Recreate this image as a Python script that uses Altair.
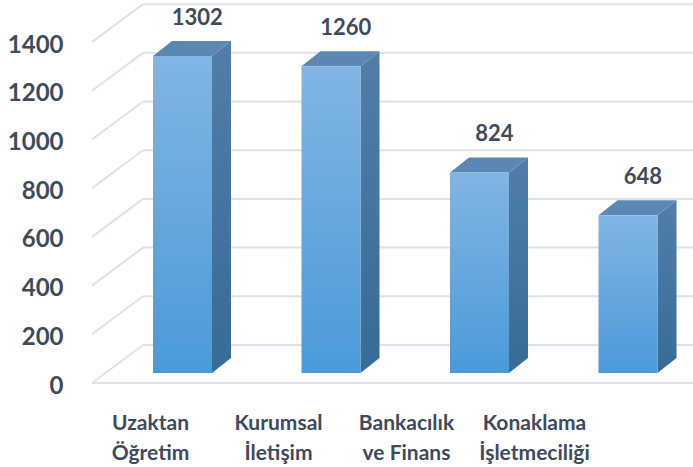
import altair as alt
import pandas as pd

# ---- data ----
categories = ["Uzaktan|Öğretim", "Kurumsal|İletişim", "Bankacılık|ve Finans", "Konaklama|İşletmeciliği"]
values = [1302, 1260, 824, 648]
tick_values = [0, 200, 400, 600, 800, 1000, 1200, 1400]

# ---- geometry / style constants (3D look) ----
X_MIN, X_MAX = -0.6094, 3.4377   # x scale domain (bar index units)
Y_MAX = 1573                     # y scale domain top
HW = 0.1987                      # half bar width
BD_X, BD_Y = 0.128, 61.6         # bar depth
BASE = 41                        # bar plane raise
WALL_X, WALL_Y = 0.3434, 156     # back wall depth

TEXT = "#3E4B5C"
FONT = "Lato"

idx = list(range(len(values)))

front = pd.DataFrame({
    "cat": categories,
    "v": values,
    "x0": [i - HW for i in idx],
    "x1": [i + HW for i in idx],
    "y0": [BASE] * len(values),
    "y1": [BASE + v for v in values],
    "xl": [i + 0.1 for i in idx],
})

side_rows, top_rows = [], []
for i, v in zip(idx, values):
    side_rows.append({"bar": i, "x": i + HW, "y": BASE, "y2": BASE + v})
    side_rows.append({"bar": i, "x": i + HW + BD_X, "y": BASE + BD_Y, "y2": BASE + v + BD_Y})
    top_rows.append({"bar": i, "y": BASE + v, "x": i - HW, "x2": i + HW})
    top_rows.append({"bar": i, "y": BASE + v + BD_Y, "x": i - HW + BD_X, "x2": i + HW + BD_X})
side = pd.DataFrame(side_rows)
top = pd.DataFrame(top_rows)

grid_rows = []
for t in tick_values:
    grid_rows.append({"x": X_MIN, "x2": X_MIN + WALL_X, "y": t, "y2": t + WALL_Y})
    grid_rows.append({"x": X_MIN + WALL_X, "x2": X_MAX, "y": t + WALL_Y, "y2": t + WALL_Y})
grid_rows.append({"x": X_MIN, "x2": X_MAX, "y": 0, "y2": 0})
grid = pd.DataFrame(grid_rows)

xs = alt.Scale(domain=[X_MIN, X_MAX], nice=False, zero=False)
ys = alt.Scale(domain=[0, Y_MAX], nice=False, zero=False)
y_axis = alt.Axis(
    values=tick_values, format="d", domain=False, ticks=False, grid=False, title=None,
    labelPadding=29, labelFont=FONT, labelFontWeight="bold", labelFontSize=24,
    labelColor=TEXT, labelOffset=3)

grid_layer = alt.Chart(grid).mark_rule(color="#DDE2E9", strokeWidth=2).encode(
    x=alt.X("x:Q", scale=xs, axis=None),
    x2="x2:Q",
    y=alt.Y("y:Q", scale=ys, axis=y_axis),
    y2="y2:Q",
)

side_grad = alt.Gradient(gradient="linear", x1=0, x2=0, y1=0, y2=1,
                         stops=[alt.GradientStop(color="#517EA9", offset=0),
                                alt.GradientStop(color="#386B97", offset=1)])
front_grad = alt.Gradient(gradient="linear", x1=0, x2=0, y1=0, y2=1,
                          stops=[alt.GradientStop(color="#81B5E4", offset=0),
                                 alt.GradientStop(color="#4A9AD9", offset=1)])

side_layer = alt.Chart(side).mark_area(color=side_grad, opacity=1).encode(
    x=alt.X("x:Q", scale=xs, axis=None),
    y=alt.Y("y:Q", scale=ys, axis=y_axis),
    y2="y2:Q",
    detail="bar:N",
)

top_layer = alt.Chart(top).mark_area(color="#5A87B3", orient="horizontal", opacity=1).encode(
    y=alt.Y("y:Q", scale=ys, axis=y_axis),
    x=alt.X("x:Q", scale=xs, axis=None),
    x2="x2:Q",
    detail="bar:N",
)

front_layer = alt.Chart(front).mark_rect(color=front_grad).encode(
    x=alt.X("x0:Q", scale=xs, axis=None),
    x2="x1:Q",
    y=alt.Y("y0:Q", scale=ys, axis=y_axis),
    y2="y1:Q",
)

value_layer = alt.Chart(front).mark_text(
    font=FONT, fontWeight="bold", fontSize=22, color=TEXT, dy=-38, baseline="middle"
).encode(
    x=alt.X("xl:Q", scale=xs, axis=None),
    y=alt.Y("y1:Q", scale=ys, axis=y_axis),
    text="v:Q",
)

label_layer = alt.Chart(front).mark_point(opacity=0).encode(
    x=alt.X("cat:N", sort=categories,
            scale=alt.Scale(type="point", range=[58, 442], padding=0),
            axis=alt.Axis(labelExpr="split(datum.label, '|')", labelAngle=0,
                          domain=False, ticks=False, title=None, labelPadding=29,
                          labelBaseline="top", labelLineHeight=30, labelFontSize=21,
                          labelFont=FONT, labelFontWeight="bold", labelColor=TEXT,
                          labelLimit=300)),
)

chart = alt.layer(
    grid_layer, side_layer, top_layer, front_layer, value_layer, label_layer
).resolve_scale(x="independent").properties(
    width=601, height=383,
    autosize=alt.AutoSizeParams(type="none"),
    padding={"left": 92, "top": 0, "right": 0, "bottom": 84},
    background="white",
).configure_view(stroke=None)

chart.save("out.html", embed_options={"renderer": "svg", "actions": False})
